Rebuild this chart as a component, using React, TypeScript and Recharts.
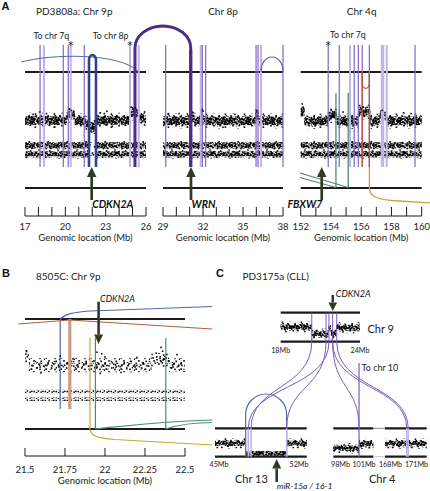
import React from 'react';
import { ComposedChart, XAxis, YAxis, Scatter, ReferenceLine, ReferenceArea } from 'recharts';

const W = 430;
const H = 491;
const XH = 20;
const FONT = 'Lato, "Noto Sans", "DejaVu Sans", sans-serif';

// ======================= DATA =======================
// ---- Panel A: PD3808a ----
const a1Domain = [17, 26];
const a1Ticks = [17, 18, 19, 20, 21, 22, 23, 24, 25, 26];
const a1TickLabels = [17, 20, 23, 26];
const a2Domain = [29, 38];
const a2Ticks = [29, 30, 31, 32, 33, 34, 35, 36, 37, 38];
const a2TickLabels = [29, 32, 35, 38];
const a3Domain = [152, 160];
const a3Ticks = [152, 153, 154, 155, 156, 157, 158, 159, 160];
const a3TickLabels = [152, 154, 156, 158, 160];

const a1CopyNumber = [
  { s: 17.0, e: 20.1, cn: 0.95 },
  { s: 20.1, e: 20.7, cn: 1.6 },
  { s: 20.7, e: 21.5, cn: 0.9 },
  { s: 21.5, e: 21.85, cn: 0.55 },
  { s: 21.85, e: 22.3, cn: 0.2 },
  { s: 22.3, e: 24.75, cn: 0.95 },
  { s: 24.75, e: 25.5, cn: 1.9 },
  { s: 25.5, e: 26.0, cn: 1.2 },
];
const a2CopyNumber = [
  { s: 29.0, e: 31.0, cn: 0.9 },
  { s: 31.0, e: 31.35, cn: 1.3 },
  { s: 31.35, e: 31.85, cn: 0.9 },
  { s: 31.85, e: 32.05, cn: 1.3 },
  { s: 32.05, e: 35.9, cn: 0.9 },
  { s: 35.9, e: 36.2, cn: 1.4 },
  { s: 36.2, e: 38.0, cn: 0.9 },
];
const a3CopyNumber = [
  { s: 152.0, e: 152.25, cn: 2.0 },
  { s: 152.25, e: 153.8, cn: 0.85 },
  { s: 153.8, e: 154.4, cn: 1.6 },
  { s: 154.4, e: 155.8, cn: 0.85 },
  { s: 155.8, e: 156.6, cn: 2.0 },
  { s: 156.6, e: 157.2, cn: 0.85 },
  { s: 157.2, e: 157.7, cn: 1.5 },
  { s: 157.7, e: 160.0, cn: 0.9 },
];
const a1Outliers = [
  { x: 18.1, y: 2.0 }, { x: 18.6, y: 1.8 }, { x: 20.3, y: 2.4 }, { x: 20.45, y: 2.2 }, { x: 21.95, y: -0.5 },
  { x: 22.1, y: -0.4 }, { x: 22.6, y: 1.9 }, { x: 22.9, y: 1.8 }, { x: 24.9, y: 2.6 }, { x: 25.2, y: 2.5 },
  { x: 19.2, y: 0.1 }, { x: 23.5, y: 0.2 }, { x: 17.6, y: 1.7 }, { x: 23.1, y: 2.1 },
];
const a2Outliers = [
  { x: 31.2, y: 2.0 }, { x: 31.25, y: 1.9 }, { x: 31.95, y: 2.3 }, { x: 32.0, y: 2.1 }, { x: 36.0, y: 2.0 },
  { x: 36.05, y: 2.2 }, { x: 30.2, y: 1.8 }, { x: 33.5, y: 0.1 }, { x: 34.4, y: 1.7 }, { x: 29.4, y: 1.8 },
];
const a3Outliers = [
  { x: 152.1, y: 3.0 }, { x: 152.15, y: 2.6 }, { x: 152.05, y: 2.4 }, { x: 154.0, y: 2.3 }, { x: 155.9, y: 2.8 },
  { x: 156.1, y: 2.6 }, { x: 156.3, y: 2.5 }, { x: 157.4, y: 2.2 }, { x: 158.8, y: 1.9 }, { x: 159.3, y: 1.8 },
  { x: 154.8, y: 2.0 },
];
// heterozygous-SNP B-allele-fraction bands
const bafBandLevels = [0.97, 0.22];
const a1Het = [{ s: 17, e: 21.8 }, { s: 22.3, e: 26 }];
const a1HetSparse = [{ s: 21.8, e: 22.3 }];
const a2Het = [{ s: 29, e: 38 }];
const a3Het = [{ s: 152, e: 160 }];

// breakpoints (m = purple, l = lilac)
const a1Breaks = [
  { x: 18.12, k: 'm' }, { x: 18.41, k: 'l' }, { x: 19.85, k: 'm' }, { x: 20.22, k: 'm' },
  { x: 20.4, k: 'l' }, { x: 21.41, k: 'm' }, { x: 24.81, k: 'l' }, { x: 25.46, k: 'l' },
];
const a2Breaks = [
  { x: 29.2, k: 'm' }, { x: 31.83, k: 'l' }, { x: 31.95, k: 'm' }, { x: 32.2, k: 'm' },
  { x: 35.98, k: 'm' }, { x: 36.13, k: 'm' }, { x: 36.35, k: 'l' }, { x: 38.0, k: 'm' },
];
const a3Breaks = [
  { x: 153.82, k: 'm' }, { x: 154.55, k: 'm' }, { x: 155.26, k: 'l' }, { x: 155.54, k: 'm' },
  { x: 155.81, k: 'm' }, { x: 156.07, k: 'm' }, { x: 156.54, k: 'm' }, { x: 157.36, k: 'l' },
  { x: 157.46, k: 'l' }, { x: 157.69, k: 'l' }, { x: 159.56, k: 'm' },
];
const a1Inversion = { s: 21.76, e: 22.28 };
const a1LongArc = { s: 16.72, e: 25.46 };
const aTranslocation = { chr9: 25.18, chr8: 31.08 };
const a2Deletion = { s: 36.35, e: 38.0 };
const a3Foldback = { s: 156.07, e: 156.54 };
const a3Gold = { s: 156.54, e: 160.6 };
const a3Green = [{ v: 155.14, from: 151.95 }, { v: 154.33, from: 151.95 }];
const aGenes = [
  { name: 'CDKN2A', x: 21.96, panel: 'a1' },
  { name: 'WRN', x: 31.1, panel: 'a2' },
  { name: 'FBXW7', x: 153.39, panel: 'a3' },
];

// ---- Panel B: 8505C ----
const bDomain = [21.5, 22.5];
const bTicks = [21.5, 21.75, 22, 22.25, 22.5];
const bCopyNumber = [
  { s: 21.5, e: 21.525, cn: 3.6 },
  { s: 21.525, e: 22.29, cn: 1.9 },
  { s: 22.29, e: 22.4, cn: 3.0 },
  { s: 22.4, e: 22.5, cn: 1.9 },
];
const bOutliers = [
  { x: 21.51, y: 4.8 }, { x: 21.505, y: 4.2 }, { x: 21.72, y: 3.8 }, { x: 21.95, y: 4.6 }, { x: 21.98, y: 4.3 },
  { x: 22.0, y: 3.6 }, { x: 21.97, y: 0.2 }, { x: 22.35, y: 5.6 }, { x: 22.36, y: 4.8 }, { x: 22.45, y: 4.1 },
  { x: 21.6, y: 0.3 }, { x: 22.1, y: 0.4 }, { x: 22.2, y: 3.5 }, { x: 21.8, y: 3.2 }, { x: 22.32, y: 4.4 },
];
const bBafRows = [0.66, 0.1];
const bBlue = { v: 21.72, to: 22.67 };
const bBrown = { v: 21.78, from: 21.458, to: 22.67 };
const bGold = { v: 21.906, to: 22.67 };
const bGreen = [{ v: 21.94, to: 22.67 }, { v: 22.38, to: 22.67 }];
const bGene = { name: 'CDKN2A', x: 21.96 };

// ---- Panel C: PD3175a (CLL) ----
const c9Domain = [18, 24];
const c13Domain = [45, 52];
const c4aDomain = [98, 101];
const c4bDomain = [168, 171];
const c9CopyNumber = [
  { s: 18, e: 20.35, cn: 2.25 },
  { s: 20.35, e: 21.6, cn: 1.0 },
  { s: 21.6, e: 21.8, cn: 2.0 },
  { s: 21.8, e: 22.2, cn: 1.0 },
  { s: 22.2, e: 24, cn: 2.1 },
];
const c13CopyNumber = [
  { s: 45, e: 47.34, cn: 2.0 },
  { s: 47.34, e: 50.47, cn: 0.15 },
  { s: 50.47, e: 52, cn: 2.0 },
];
const c4aCopyNumber = [
  { s: 98, e: 99.93, cn: 1.1 },
  { s: 99.93, e: 101, cn: 1.9 },
];
const c4bCopyNumber = [{ s: 168, e: 171, cn: 1.95 }];
const c9Breaks = [20.35, 21.43, 21.65, 21.93, 22.24];
const cLinks = [
  { from: 20.35, to: 'c13', at: 47.75 },
  { from: 21.65, to: 'c13', at: 47.54 },
  { from: 21.43, to: 'c13', at: 50.47 },
  { from: 21.93, to: 'c4a', at: 99.93 },
  { from: 21.93, to: 'c4b', at: 169.56 },
  { from: 22.24, to: 'c4b', at: 169.67 },
];
const c13Loop = { s: 47.34, e: 50.47 };
const c13Breaks = [47.54, 47.75, 50.47];
const c4aBreak = 99.93;
const c4bBreaks = [169.56, 169.67];
const cGene = { name: 'CDKN2A', x: 21.94 };
const cMir = { name: 'miR-15a / 16-1', x: 49.71 };

// ======================= STYLE / LAYOUT =======================
const C = {
  black: '#1b1b1b',
  purple: '#8c70c8',
  lilac: '#c2b4e6',
  darkPurple: '#4b2c86',
  navy: '#33438b',
  blue: '#5466ad',
  brown: '#b35a3b',
  tan: '#cf9a82',
  gold: '#c9a43a',
  green: '#4f8a72',
  arrow: '#2f3a25',
  link: '#7a5cc0',
};

const F: any = {
  a1: { px: [25, 146], py: [20, 216], d: a1Domain },
  a2: { px: [163, 283], py: [20, 216], d: a2Domain },
  a3: { px: [300.7, 421.7], py: [20, 216], d: a3Domain },
  b: { px: [25, 185], py: [290, 456], d: bDomain },
  c9: { px: [280.7, 360], py: [290, 341.7], d: c9Domain },
  c13: { px: [215, 306.7], py: [380, 456.7], d: c13Domain },
  c4a: { px: [333.3, 373.3], py: [380, 456.7], d: c4aDomain },
  c4b: { px: [385, 426.7], py: [380, 456.7], d: c4bDomain },
};
const LA = { top: 72, bot: 188, brkTop: 45, brkBot: 167, cnZero: 128, cnK: 8, bafZero: 157, bafK: 12 };
const LB = { top: 319, bot: 429, brkBot: 409, partTop: 338, cnZero: 374.3, cnK: 4.8, bafZero: 400.7, bafK: 14 };
const LC9 = { top: 312.7, bot: 341.7, cnZero: 340, cnK: 5.85 };
const LCB = { top: 428.3, bot: 456.7, cnZero: 454.3, cnK: 5.5 };

const margin = (f: any) => ({ left: f.px[0], right: W - f.px[1], top: f.py[0], bottom: H - f.py[1] - XH });
const valDomain = (f: any, zero: number, k: number) => [(zero - f.py[1]) / k, (zero - f.py[0]) / k];
const toPx = (f: any, mb: number) => f.px[0] + ((mb - f.d[0]) / (f.d[1] - f.d[0])) * (f.px[1] - f.px[0]);
const fromPx = (f: any, px: number) => f.d[0] + ((px - f.px[0]) / (f.px[1] - f.px[0])) * (f.d[1] - f.d[0]);
const cross = (mb: number, from: any, to: any) => fromPx(to, toPx(from, mb));

// texture tiles (purely visual, to render the dense SNP clouds)
const DENSE_DOTS = [
  [0.4, 0.7], [2.9, 4.1], [5.3, 1.9], [7.8, 8.6], [10.2, 3.3], [12.7, 10.4], [15.1, 0.2], [17.6, 6.8], [20.0, 2.7], [22.5, 9.1],
  [1.2, 9.8], [3.7, 6.5], [6.1, 11.2], [8.6, 0.9], [11.0, 7.4], [13.5, 4.8], [15.9, 9.6], [18.4, 1.5], [20.8, 5.9], [23.3, 11.0],
  [0.9, 3.2], [3.1, 10.9], [5.8, 5.6], [8.2, 3.8], [10.7, 11.5], [13.0, 1.4], [15.6, 6.1], [18.0, 10.0], [20.5, 8.0], [22.9, 4.4],
  [1.8, 6.9], [4.4, 2.3], [6.8, 8.2], [9.3, 5.7], [11.8, 0.1], [14.2, 8.9], [16.7, 3.9], [19.1, 7.3], [21.6, 0.6], [0.1, 11.6],
  [2.3, 1.4], [4.9, 8.8], [7.3, 3.0], [9.9, 10.1], [12.3, 5.9], [14.8, 2.6], [17.1, 11.8], [19.6, 4.6], [22.1, 6.6], [23.7, 2.0],
];
const SPARSE_DOTS = [[1.3, 2.2], [6.8, 0.4], [12.1, 4.7], [4.2, 7.9], [15.6, 9.3], [9.4, 11.1], [17.8, 2.9], [2.6, 11.9], [10.8, 7.2], [7.5, 4.9], [14.2, 12.3], [0.2, 6.1]];
const CLOUD_DOTS = [[1.1, 1.7], [5.9, 4.2], [10.4, 8.6], [3.2, 8.1], [12.8, 2.3], [8.1, 0.3], [13.9, 6.4], [6.6, 10.2], [0.4, 5.3], [9.2, 5.6]];
const ROW_DOTS = [[0.5, 0.8], [2.8, 1.9], [4.6, 0.3], [7.4, 1.4], [9.1, 0.6]];

function Patterns() {
  const dot = (pts: number[][], s: number) => pts.map(([x, y], i) => <rect key={i} x={x} y={y} width={s} height={s} fill="#000" />);
  return (
    <svg width={0} height={0} style={{ position: 'absolute' }}>
      <defs>
        <pattern id="dense" width={24} height={12} patternUnits="userSpaceOnUse">{dot(DENSE_DOTS, 1.8)}</pattern>
        <pattern id="denseB" width={24} height={12} patternUnits="userSpaceOnUse" patternTransform="translate(11,5)">{dot(DENSE_DOTS, 1.8)}</pattern>
        <pattern id="sparse" width={19} height={13} patternUnits="userSpaceOnUse">{dot(SPARSE_DOTS, 1.6)}</pattern>
        <pattern id="sparseB" width={19} height={13} patternUnits="userSpaceOnUse" patternTransform="translate(9,6)">{dot(SPARSE_DOTS, 1.6)}</pattern>
        <pattern id="cloud" width={15} height={11} patternUnits="userSpaceOnUse">{dot(CLOUD_DOTS, 1.6)}</pattern>
        <pattern id="row" width={11} height={3} patternUnits="userSpaceOnUse">{dot(ROW_DOTS, 1.5)}</pattern>
      </defs>
    </svg>
  );
}

// ======================= ELEMENT BUILDERS =======================
const bandSet = (p: string, segs: any[], axis: string, layers: [number, string][]) =>
  segs.flatMap((s, i) =>
    layers.map(([half, fill], j) => (
      <ReferenceArea key={`${p}${i}-${j}`} xAxisId="x" yAxisId={axis} x1={s.s} x2={s.e} y1={s.v - half} y2={s.v + half}
        fill={`url(#${fill})`} fillOpacity={1} stroke="none" ifOverflow="visible" />
    )),
  );
const cnSegs = (arr: any[]) => arr.map((d) => ({ s: d.s, e: d.e, v: d.cn }));
const bafSegs = (arr: any[], levels: number[]) => arr.flatMap((d) => levels.map((v) => ({ s: d.s, e: d.e, v })));

const vline = (key: string, x: number, y1: number, y2: number, stroke: string, sw: number) => (
  <ReferenceLine key={key} xAxisId="x" yAxisId="py" segment={[{ x, y: y1 }, { x, y: y2 }]} stroke={stroke} strokeWidth={sw} ifOverflow="visible" />
);
const hline = (key: string, y: number, stroke: string, sw: number) => (
  <ReferenceLine key={key} xAxisId="x" yAxisId="py" y={y} stroke={stroke} strokeWidth={sw} ifOverflow="visible" />
);
const seg = (key: string, a: any, b: any, stroke: string, sw: number) => (
  <ReferenceLine key={key} xAxisId="x" yAxisId="py" segment={[a, b]} stroke={stroke} strokeWidth={sw} ifOverflow="visible" />
);
const shaped = (key: string, a: any, b: any, shape: any) => (
  <ReferenceLine key={key} xAxisId="x" yAxisId="py" segment={[a, b]} shape={shape} ifOverflow="visible" />
);
const dots = (key: string, data: any[], axis: string) => (
  <Scatter key={key} xAxisId="x" yAxisId={axis} data={data} dataKey="y" isAnimationActive={false}
    shape={(p: any) => <rect x={p.cx - 0.8} y={p.cy - 0.8} width={1.6} height={1.6} fill="#111" />} />
);

const archShape = (ry: number, stroke: string, sw: number) => (p: any) => {
  const x1 = Math.min(p.x1, p.x2);
  const x2 = Math.max(p.x1, p.x2);
  const base = p.y1;
  const top = p.y2;
  const up = top < base;
  const rx = (x2 - x1) / 2;
  const yc = up ? top + ry : top - ry;
  return <path d={`M${x1},${base} L${x1},${yc} A${rx},${ry} 0 0 ${up ? 1 : 0} ${x2},${yc} L${x2},${base}`} fill="none" stroke={stroke} strokeWidth={sw} />;
};
const pathShape = (build: (x1: number, y1: number, x2: number, y2: number) => string, stroke: string, sw: number) => (p: any) => (
  <path d={build(p.x1, p.y1, p.x2, p.y2)} fill="none" stroke={stroke} strokeWidth={sw} />
);
const arrowShape = (label: string, o: any) => (p: any) => {
  const x = p.x2;
  const tail = p.y1;
  const tip = p.y2;
  const dir = tip > tail ? 1 : -1;
  const base = tip - dir * o.headL;
  return (
    <g>
      <line x1={x} y1={tail} x2={x} y2={base} stroke={C.arrow} strokeWidth={o.shaft} />
      <polygon points={`${x - o.headW / 2},${base} ${x + o.headW / 2},${base} ${x},${tip}`} fill={C.arrow} />
      <text x={x + o.dx} y={tail + o.ly} textAnchor={o.anchor} fontSize={o.fs} fontStyle="italic" fontWeight={o.bold ? 'bold' : 'normal'}
        fontFamily={FONT} fill="#111">{label}</text>
    </g>
  );
};
const labelledLine = (label: string, stroke: string) => (p: any) => (
  <g>
    <line x1={p.x1} y1={p.y1} x2={p.x2} y2={p.y2} stroke={stroke} strokeWidth={1.2} />
    <text x={p.x1 + 2.5} y={p.y1 + 7.5} fontSize={9} fontFamily={FONT} fill="#222">{label}</text>
  </g>
);

const xTick = (o: any) => (p: any) => {
  const v = p.payload?.value;
  const off = o.offsets ? o.offsets[v] ?? 0 : 0;
  return (
    <g>
      {o.tickLen > 0 && <line x1={p.x} x2={p.x} y1={p.y} y2={p.y - o.tickLen} stroke={C.black} strokeWidth={1} />}
      {o.labels.includes(v) && (
        <text x={p.x + off} y={p.y + o.dy} textAnchor="middle" fontSize={o.fs} fontFamily={FONT} fill="#222">
          {`${v}${o.suffix ?? ''}`}
        </text>
      )}
    </g>
  );
};
const bracketTick = (o: any) => (p: any) => {
  const v = p.payload?.value;
  const vx = p.x - o.dv;
  return (
    <g>
      <line x1={vx - o.tl} x2={vx} y1={p.y} y2={p.y} stroke="#222" strokeWidth={0.9} />
      {v === o.top && <line x1={vx} x2={vx} y1={p.y} y2={p.y + (o.top - o.bottom) * o.k} stroke="#222" strokeWidth={0.9} />}
      {o.labels.includes(v) && (
        <text x={p.x - o.lx} y={p.y + 3.2} textAnchor="end" fontSize={9} fontFamily={FONT} fill="#222">{v}</text>
      )}
    </g>
  );
};
const doubleBracketTick = (o: any) => (p: any) => {
  const v = p.payload?.value;
  const L = p.x - 22.3;
  const R = p.x - 5.6;
  const span = (o.top - o.bottom) * o.k;
  return (
    <g>
      <line x1={L} x2={L + 3} y1={p.y} y2={p.y} stroke="#222" strokeWidth={0.9} />
      <line x1={R - 3.4} x2={R} y1={p.y} y2={p.y} stroke="#222" strokeWidth={0.9} />
      {v === o.top && <line x1={L} x2={L} y1={p.y} y2={p.y + span} stroke="#222" strokeWidth={0.9} />}
      {v === o.top && <line x1={R} x2={R} y1={p.y} y2={p.y + span} stroke="#222" strokeWidth={0.9} />}
      <text x={p.x - 14} y={p.y + 3} textAnchor="middle" fontSize={8.5} fontFamily={FONT} fill="#222">{v}</text>
    </g>
  );
};

function Chart(props: any) {
  const { f, cnZero, cnK, bafZero, bafK, xTicks, xTickRender, axisLine, xLabel, xLabelOffset, cnTicks, cnTick, bafTicks, bafTick, items } = props;
  return (
    <div style={{ position: 'absolute', left: 0, top: 0 }}>
      <ComposedChart width={W} height={H} margin={margin(f)}>
        <XAxis xAxisId="x" dataKey="x" type="number" domain={f.d} allowDataOverflow height={XH}
          ticks={xTicks} interval={0} tick={xTickRender ?? false} tickLine={false} tickSize={0} tickMargin={0}
          axisLine={axisLine ? { stroke: C.black, strokeWidth: 1 } : false}
          label={xLabel ? { value: xLabel, position: 'bottom', offset: xLabelOffset, fontSize: 9.5, fontFamily: FONT, fill: '#222' } : undefined} />
        <YAxis yAxisId="py" type="number" domain={f.py} reversed hide allowDataOverflow />
        <YAxis yAxisId="cn" dataKey="y" type="number" domain={valDomain(f, cnZero, cnK)} allowDataOverflow width={0}
          hide={!cnTick} ticks={cnTicks} interval={0} tick={cnTick ?? false} tickLine={false} axisLine={false} tickSize={0} tickMargin={0} />
        <YAxis yAxisId="baf" dataKey="y" type="number" domain={valDomain(f, bafZero ?? cnZero, bafK ?? cnK)} allowDataOverflow width={0}
          hide={!bafTick} ticks={bafTicks} interval={0} tick={bafTick ?? false} tickLine={false} axisLine={false} tickSize={0} tickMargin={0} />
        {items}
      </ComposedChart>
    </div>
  );
}

const brkStyle = (k: string): [string, number] => (k === 'l' ? [C.lilac, 2] : [C.purple, 1.3]);

// cloud layers: [half-height in value units, texture]
const A_CN_LAYERS: [number, string][] = [[0.95, 'sparse'], [0.7, 'sparseB'], [0.55, 'dense'], [0.35, 'denseB']];
const A_BAF_LAYERS: [number, string][] = [[0.36, 'sparse'], [0.26, 'dense'], [0.15, 'denseB']];
const C_CN_LAYERS: [number, string][] = [[0.95, 'sparse'], [0.7, 'sparseB'], [0.5, 'dense'], [0.28, 'denseB']];

// ---------- Panel A ----------
function panelAItems(p: string, cn: any[], het: any[], hetSparse: any[], outl: any[], breaks: any[]) {
  return [
    ...bandSet(p + 'c', cnSegs(cn), 'cn', A_CN_LAYERS),
    ...bandSet(p + 'b', bafSegs(het, bafBandLevels), 'baf', A_BAF_LAYERS),
    ...bandSet(p + 'g', bafSegs(hetSparse, bafBandLevels), 'baf', [[0.32, 'sparse'], [0.2, 'sparseB']]),
    dots(p + 'o', outl, 'cn'),
    hline(p + 'ht', LA.top, C.black, 2.2),
    hline(p + 'hb', LA.bot, C.black, 2.2),
    ...breaks.map((b, i) => {
      const [s, w] = brkStyle(b.k);
      return vline(`${p}v${i}`, b.x, LA.brkTop, LA.brkBot, s, w);
    }),
  ];
}
const aArrowOpts = (anchor: string) => ({ anchor, dx: 0.5, ly: 8, fs: 10.5, bold: true, headW: 9.5, headL: 10, shaft: 2.7 });
const aGene = (g: any) =>
  shaped('gene' + g.name, { x: g.x, y: 200 }, { x: g.x, y: LA.brkBot }, arrowShape(g.name, aArrowOpts(g.panel === 'a3' ? 'end' : 'start')));

const aXTick = (labels: number[]) => xTick({ labels, tickLen: 9, dy: 13.5, fs: 9.5 });
const A_LABEL = 'Genomic location (Mb)';

function PanelA1() {
  const items = [
    ...panelAItems('a1', a1CopyNumber, a1Het, a1HetSparse, a1Outliers, a1Breaks),
    shaped('a1long', { x: a1LongArc.s, y: 62 }, { x: a1LongArc.e, y: LA.top },
      pathShape((x1, y1, x2, y2) => `M${x1},${y1} C${x1 + 29},${y1 - 8} ${x2 - 19},${y2 - 20} ${x2},${y2}`, C.blue, 1)),
    shaped('a1inv', { x: a1Inversion.s, y: LA.brkBot }, { x: a1Inversion.e, y: 55 }, archShape(5, C.navy, 2.6)),
    shaped('a1trans', { x: aTranslocation.chr9, y: LA.brkBot }, { x: cross(aTranslocation.chr8, F.a2, F.a1), y: 26 }, archShape(22, C.darkPurple, 3)),
    aGene(aGenes[0]),
  ];
  return (
    <Chart f={F.a1} cnZero={LA.cnZero} cnK={LA.cnK} bafZero={LA.bafZero} bafK={LA.bafK}
      xTicks={a1Ticks} xTickRender={aXTick(a1TickLabels)} axisLine xLabel={A_LABEL} xLabelOffset={-2.2}
      cnTicks={[0, 1, 2]} cnTick={bracketTick({ top: 2, bottom: 0, k: LA.cnK, labels: [0, 1, 2], dv: 5, tl: 5, lx: 11 })}
      bafTicks={[0, 0.5, 1]} bafTick={bracketTick({ top: 1, bottom: 0, k: LA.bafK, labels: [0, 1], dv: 5, tl: 5, lx: 11 })}
      items={items} />
  );
}
function PanelA2() {
  const items = [
    ...panelAItems('a2', a2CopyNumber, a2Het, [], a2Outliers, a2Breaks),
    vline('a2trans', aTranslocation.chr8, LA.brkBot, 50, C.darkPurple, 3),
    shaped('a2del', { x: a2Deletion.s, y: LA.top }, { x: a2Deletion.e, y: 57 }, archShape(14, C.blue, 1.2)),
    aGene(aGenes[1]),
  ];
  return (
    <Chart f={F.a2} cnZero={LA.cnZero} cnK={LA.cnK} bafZero={LA.bafZero} bafK={LA.bafK}
      xTicks={a2Ticks} xTickRender={aXTick(a2TickLabels)} axisLine xLabel={A_LABEL} xLabelOffset={-2.2} items={items} />
  );
}
function PanelA3() {
  const items = [
    ...panelAItems('a3', a3CopyNumber, a3Het, [], a3Outliers, a3Breaks),
    vline('a3br1', a3Foldback.s, LA.top, LA.brkBot, C.brown, 1.3),
    vline('a3br2', a3Foldback.e, LA.top, LA.brkBot, C.brown, 1.3),
    shaped('a3fold', { x: a3Foldback.s, y: LA.top }, { x: a3Foldback.e, y: 88.3 }, archShape(5, C.brown, 1.2)),
    shaped('a3gold', { x: a3Gold.s, y: LA.brkBot }, { x: a3Gold.e, y: 203 },
      pathShape((x1, y1, x2, y2) => `M${x1},${y1} L${x1},${y2 - 16} C${x1},${y2 - 7} ${x1 + 6},${y2 - 4} ${x1 + 22},${y2 - 2.5} L${x2},${y2}`, C.gold, 1.3)),
    vline('a3g1', a3Green[0].v, 92.7, 187.5, C.green, 1.3),
    vline('a3g2', a3Green[1].v, 93.3, 187.5, C.green, 1.3),
    seg('a3gs1', { x: a3Green[0].from, y: 173 }, { x: a3Green[0].v, y: 187.5 }, C.green, 1.2),
    seg('a3gs2', { x: a3Green[1].from, y: 177.5 }, { x: a3Green[1].v, y: 187.5 }, C.green, 1.2),
    aGene(aGenes[2]),
  ];
  return (
    <Chart f={F.a3} cnZero={LA.cnZero} cnK={LA.cnK} bafZero={LA.bafZero} bafK={LA.bafK}
      xTicks={a3Ticks} xTickRender={aXTick(a3TickLabels)} axisLine xLabel={A_LABEL} xLabelOffset={-2.2} items={items} />
  );
}

// ---------- Panel B ----------
function PanelB() {
  const items = [
    ...bandSet('bc', cnSegs(bCopyNumber), 'cn', [[1.45, 'cloud'], [0.9, 'sparse'], [0.5, 'sparseB']]),
    ...bandSet('bb', bafSegs([{ s: 21.5, e: 22.5 }], bBafRows), 'baf', [[0.12, 'row']]),
    dots('bo', bOutliers, 'cn'),
    hline('bht', LB.top, C.black, 2.2),
    hline('bhb', LB.bot, C.black, 2.2),
    vline('bbl', bBlue.v, LB.top, LB.brkBot, C.blue, 1.2),
    shaped('bblc', { x: bBlue.v, y: LB.top }, { x: bBlue.to, y: 306.5 },
      pathShape((x1, y1, x2, y2) => `M${x1},${y1} C${x1 + 5},${y1 - 5} ${x1 + 12},${y1 - 6.5} ${x1 + 30},${y1 - 8} L${x2},${y2}`, C.blue, 1.2)),
    vline('bbr', bBrown.v, LB.top, LB.brkBot, C.tan, 3.2),
    seg('bbr1', { x: bBrown.from, y: 324 }, { x: bBrown.v, y: 320 }, C.brown, 1.1),
    seg('bbr2', { x: bBrown.v, y: 320 }, { x: bBrown.to, y: 329 }, C.brown, 1.1),
    shaped('bgold', { x: bGold.v, y: LB.partTop }, { x: bGold.to, y: 445 },
      pathShape((x1, y1, x2, y2) => `M${x1},${y1} L${x1},${y2 - 17} C${x1},${y2 - 9} ${x1 + 7},${y2 - 7} ${x1 + 25},${y2 - 5.5} L${x2},${y2}`, C.gold, 1.2)),
    vline('bg1', bGreen[0].v, LB.partTop, LB.bot, C.green, 1.2),
    vline('bg2', bGreen[1].v, LB.partTop, LB.bot, C.green, 1.2),
    shaped('bg1c', { x: bGreen[0].v, y: LB.bot }, { x: bGreen[0].to, y: 420 },
      pathShape((x1, y1, x2, y2) => `M${x1},${y1} C${x1 + 30},${y1 - 3} ${x2 - 60},${y2 + 2} ${x2},${y2}`, C.green, 1.1)),
    shaped('bg2c', { x: bGreen[1].v, y: LB.bot }, { x: bGreen[1].to, y: 422.5 },
      pathShape((x1, y1, x2, y2) => `M${x1},${y1} C${x1 + 12},${y1 - 4} ${x2 - 20},${y2} ${x2},${y2}`, C.green, 1.1)),
    shaped('bgene', { x: bGene.x, y: 301.7 }, { x: bGene.x, y: 344 },
      arrowShape(bGene.name, { anchor: 'start', dx: 1.5, ly: 0.6, fs: 9, bold: false, headW: 9, headL: 9.5, shaft: 2.6 })),
  ];
  return (
    <Chart f={F.b} cnZero={LB.cnZero} cnK={LB.cnK} bafZero={LB.bafZero} bafK={LB.bafK}
      xTicks={bTicks} xTickRender={xTick({ labels: bTicks, tickLen: 8, dy: 16.5, fs: 9.5 })} axisLine xLabel={A_LABEL} xLabelOffset={1.3}
      cnTicks={[0, 2, 4]} cnTick={bracketTick({ top: 4, bottom: 0, k: LB.cnK, labels: [0, 2, 4], dv: 8.3, tl: 4.7, lx: 16 })}
      bafTicks={[0, 0.5, 1]} bafTick={bracketTick({ top: 1, bottom: 0, k: LB.bafK, labels: [0, 1], dv: 8.3, tl: 4.7, lx: 16 })}
      items={items} />
  );
}

// ---------- Panel C ----------
const cXTick = (labels: number[], offsets: any, dy: number) => xTick({ labels, tickLen: 0, dy, fs: 7.2, suffix: 'Mb', offsets });

function PanelC9() {
  const items = [
    ...bandSet('c9c', cnSegs(c9CopyNumber), 'cn', C_CN_LAYERS),
    hline('c9t', LC9.top, C.black, 2.2),
    hline('c9b', LC9.bot, C.black, 2.2),
    ...c9Breaks.map((x, i) => vline(`c9v${i}`, x, LC9.top, LC9.bot, C.link, 1)),
    ...cLinks.map((l, i) =>
      shaped(`c9l${i}`, { x: l.from, y: LC9.bot }, { x: cross(l.at, F[l.to], F.c9), y: LCB.top },
        pathShape((x1, y1, x2, y2) => {
          const dy = y2 - y1;
          return `M${x1},${y1} C${x1},${y1 + dy * 0.55} ${x2},${y2 - dy * 0.5} ${x2},${y2}`;
        }, C.link, 1))),
    shaped('c9gene', { x: cGene.x, y: 295 }, { x: cGene.x, y: 311 },
      arrowShape(cGene.name, { anchor: 'start', dx: 3, ly: 1.5, fs: 9, bold: false, headW: 8.7, headL: 8.5, shaft: 2.5 })),
  ];
  return (
    <Chart f={F.c9} cnZero={LC9.cnZero} cnK={LC9.cnK}
      xTicks={c9Domain} xTickRender={cXTick(c9Domain, { 18: 0, 24: 0 }, 11)}
      cnTicks={[0, 2]} cnTick={bracketTick({ top: 2, bottom: 0, k: LC9.cnK, labels: [0, 2], dv: 5.7, tl: 5.5, lx: 12.7 })}
      items={items} />
  );
}
function PanelC13() {
  const items = [
    ...bandSet('c13c', cnSegs(c13CopyNumber.filter((d) => d.cn > 1)), 'cn', C_CN_LAYERS),
    ...bandSet('c13d', cnSegs(c13CopyNumber.filter((d) => d.cn <= 1)), 'cn', [[0.45, 'dense'], [0.32, 'denseB'], [0.2, 'sparse']]),
    hline('c13t', LCB.top, C.black, 2.2),
    hline('c13b', LCB.bot, C.black, 2.2),
    shaped('c13loop', { x: c13Loop.s, y: LCB.bot }, { x: c13Loop.e, y: 394 }, archShape(20.5, C.blue, 1.2)),
    ...c13Breaks.map((x, i) => vline(`c13v${i}`, x, LCB.top, LCB.bot, C.lilac, 1.6)),
    shaped('c13mir', { x: cMir.x, y: 482 }, { x: cMir.x, y: 459 },
      arrowShape(cMir.name, { anchor: 'start', dx: 0, ly: 6.5, fs: 8.5, bold: false, headW: 9, headL: 9.5, shaft: 2.6 })),
  ];
  return (
    <Chart f={F.c13} cnZero={LCB.cnZero} cnK={LCB.cnK}
      xTicks={[45, 52]} xTickRender={cXTick([45, 52], { 45: 4, 52: -7.7 }, 10)} items={items} />
  );
}
function PanelC4a() {
  const items = [
    ...bandSet('c4ac', cnSegs(c4aCopyNumber), 'cn', C_CN_LAYERS),
    hline('c4at', LCB.top, C.black, 2.2),
    hline('c4ab', LCB.bot, C.black, 2.2),
    seg('c4agap', { x: c4aDomain[1], y: LCB.top }, { x: cross(c4bDomain[0], F.c4b, F.c4a), y: LCB.top }, '#8a8a8a', 1),
    seg('c4agap2', { x: c4aDomain[1], y: LCB.bot }, { x: cross(c4bDomain[0], F.c4b, F.c4a), y: LCB.bot }, '#c8c8c8', 1),
    shaped('c4a10', { x: c4aBreak, y: 363 }, { x: c4aBreak, y: LCB.bot }, labelledLine('To chr 10', C.link)),
  ];
  return (
    <Chart f={F.c4a} cnZero={LCB.cnZero} cnK={LCB.cnK}
      xTicks={[98, 101]} xTickRender={cXTick([98, 101], { 98: 7.2, 101: -9.3 }, 10)}
      cnTicks={[0, 2]} cnTick={doubleBracketTick({ top: 2, bottom: 0, k: LCB.cnK })}
      items={items} />
  );
}
function PanelC4b() {
  const items = [
    ...bandSet('c4bc', cnSegs(c4bCopyNumber), 'cn', C_CN_LAYERS),
    hline('c4bt', LCB.top, C.black, 2.2),
    hline('c4bb', LCB.bot, C.black, 2.2),
    ...c4bBreaks.map((x, i) => vline(`c4bv${i}`, x, LCB.top, LCB.bot, C.lilac, 1.6)),
  ];
  return (
    <Chart f={F.c4b} cnZero={LCB.cnZero} cnK={LCB.cnK}
      xTicks={[168, 171]} xTickRender={cXTick([168, 171], { 168: 5.5, 171: -10.2 }, 10)} items={items} />
  );
}

// ---------- static text ----------
function Overlay() {
  const T = (props: any) => <text fontFamily={FONT} fill="#222" {...props} />;
  const bold = { fontFamily: '"Liberation Sans", Arial, sans-serif', fontWeight: 'bold', fontSize: 11, fill: '#111' };
  const ast = (key: string, f: any, mb: number) => (
    <T key={key} x={toPx(f, mb)} y={52} fontSize={15} textAnchor="middle">*</T>
  );
  return (
    <svg width={W} height={H} style={{ position: 'absolute', left: 0, top: 0 }}>
      <text x={1.5} y={9.5} {...bold}>A</text>
      <text x={2} y={277} {...bold}>B</text>
      <text x={216} y={277} {...bold}>C</text>
      <T x={36} y={14.5} fontSize={10}>PD3808a: Chr 9p</T>
      <T x={223} y={14.5} fontSize={10} textAnchor="middle">Chr 8p</T>
      <T x={361.7} y={14.5} fontSize={10} textAnchor="middle">Chr 4q</T>
      <T x={33.5} y={38.5} fontSize={8.8}>To chr 7q</T>
      <T x={92.7} y={38.5} fontSize={8.8}>To chr 8p</T>
      <T x={330} y={37.5} fontSize={8.8}>To chr 7q</T>
      {ast('s1', F.a1, 20.4)}
      {ast('s2', F.a1, 24.81)}
      {ast('s3', F.a3, 153.82)}
      <T x={36} y={279.5} fontSize={10}>8505C: Chr 9p</T>
      <T x={242.5} y={280} fontSize={10}>PD3175a (CLL)</T>
      <T x={367.5} y={333} fontSize={11}>Chr 9</T>
      <T x={235} y={483} fontSize={11}>Chr 13</T>
      <T x={369} y={483} fontSize={11}>Chr 4</T>
    </svg>
  );
}

export default function App() {
  return (
    <div style={{ position: 'absolute', left: 0, top: 0, width: W, height: H, background: '#fff', overflow: 'hidden' }}>
      <Patterns />
      <PanelA2 />
      <PanelA3 />
      <PanelA1 />
      <PanelB />
      <PanelC13 />
      <PanelC4a />
      <PanelC4b />
      <PanelC9 />
      <Overlay />
    </div>
  );
}
